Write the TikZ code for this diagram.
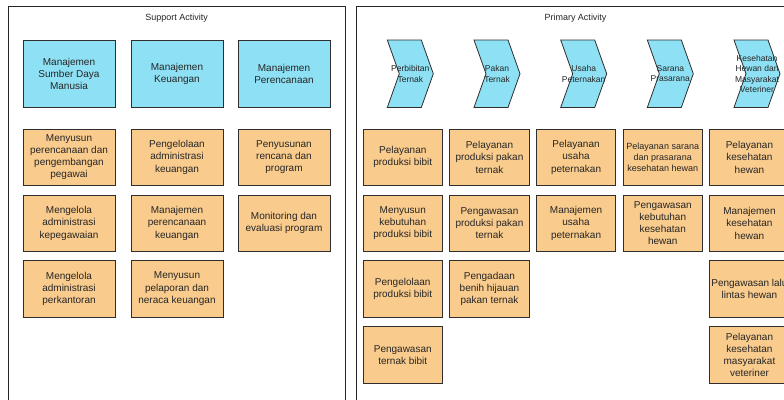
\documentclass[tikz,border=0pt]{standalone}
\usepackage{fontspec}
\setmainfont{Liberation Sans}
\definecolor{bluef}{HTML}{8EE0F4}
\definecolor{orf}{HTML}{F9CB8D}
\definecolor{edgec}{HTML}{2E2E2E}
\definecolor{txt}{HTML}{262626}
\tikzset{
 base/.style={draw=edgec, line width=0.9pt, align=center, inner sep=0pt, text=txt, font=\fontsize{10}{12.2}\selectfont},
 bbox/.style={base, fill=bluef, minimum width=92pt, minimum height=67.5pt},
 sbox/.style={base, fill=orf, minimum width=92pt, minimum height=56.5pt},
 pbox/.style={base, fill=orf, minimum width=79.5pt, minimum height=56.5pt},
 chevshape/.style={draw=edgec, line width=0.8pt, fill=bluef},
 chevtext/.style={align=center, inner sep=0pt, text=txt, font=\fontsize{8.5}{10.5}\selectfont},
 container/.style={draw=black!85, line width=1pt},
 titletext/.style={font=\fontsize{9}{11}\selectfont, text=txt, inner sep=0pt}
}
\newcommand\chevdraw[1]{%
 \draw[chevshape] (#1-23,40) -- (#1+11,40) -- (#1+23,73.75) -- (#1+11,107.5) -- (#1-23,107.5) -- (#1-11,73.75) -- cycle;}
\begin{document}
\begin{tikzpicture}[x=1pt,y=-1pt]
\useasboundingbox (0,0) rectangle (784,399);
\clip (0,0) rectangle (784,399);
\fill[white] (0,0) rectangle (784,399);
% containers
\draw[container] (8,6) rectangle (345.5,410);
\draw[container] (356,6) rectangle (800,410);
\node[titletext] (tsup) at (176.7,18) {Support Activity};
\node[titletext] (tpri) at (575.5,18) {Primary Activity};
% support blue
\node[bbox] (s1) at (69,73.75) {Manajemen\\Sumber Daya\\Manusia};
\node[bbox] (s2) at (177,73.75) {Manajemen\\Keuangan};
\node[bbox] (s3) at (284,73.75) {Manajemen\\Perencanaan};
% support orange
\node[sbox] (s11) at (69,157.25) {Menyusun\\perencanaan dan\\pengembangan\\pegawai};
\node[sbox] (s12) at (69,223.25) {Mengelola\\administrasi\\kepegawaian};
\node[sbox] (s13) at (69,288.75) {Mengelola\\administrasi\\perkantoran};
\node[sbox] (s21) at (177,157.25) {Pengelolaan\\administrasi\\keuangan};
\node[sbox] (s22) at (177,223.25) {Manajemen\\perencanaan\\keuangan};
\node[sbox] (s23) at (177,288.75) {Menyusun\\pelaporan dan\\neraca keuangan};
\node[sbox] (s31) at (284,157.25) {Penyusunan\\rencana dan\\program};
\node[sbox] (s32) at (284,223.25) {Monitoring dan\\evaluasi program};
% chevrons
\chevdraw{410.3}
\chevdraw{497}
\chevdraw{583.7}
\chevdraw{670.3}
\chevdraw{757}
\node[chevtext] (c1) at (410.3,73.75) {Perbibitan\\Ternak};
\node[chevtext] (c2) at (497,73.75) {Pakan\\Ternak};
\node[chevtext] (c3) at (583.7,73.75) {Usaha\\Peternakan};
\node[chevtext] (c4) at (670.3,73.75) {Sarana\\Prasarana};
\node[chevtext] (c5) at (757,73.75) {Kesehatan\\Hewan dan\\Masyarakat\\Veteriner};
% primary orange
\node[pbox] (p11) at (402.75,157.25) {Pelayanan\\produksi bibit};
\node[pbox] (p12) at (402.75,223.25) {Menyusun\\kebutuhan\\produksi bibit};
\node[pbox] (p13) at (402.75,288.75) {Pengelolaan\\produksi bibit};
\node[pbox] (p14) at (402.75,354.75) {Pengawasan\\ternak bibit};
\node[pbox] (p21) at (489.45,157.25) {Pelayanan\\produksi pakan\\ternak};
\node[pbox] (p22) at (489.45,223.25) {Pengawasan\\produksi pakan\\ternak};
\node[pbox] (p23) at (489.45,288.75) {Pengadaan\\benih hijauan\\pakan ternak};
\node[pbox] (p31) at (576.05,157.25) {Pelayanan\\usaha\\peternakan};
\node[pbox] (p32) at (576.05,223.25) {Manajemen\\usaha\\peternakan};
\node[pbox, font=\fontsize{9}{11}\selectfont] (p41) at (662.75,157.25) {Pelayanan sarana\\dan prasarana\\kesehatan hewan};
\node[pbox] (p42) at (662.75,223.25) {Pengawasan\\kebutuhan\\kesehatan\\hewan};
\node[pbox] (p51) at (749.45,157.25) {Pelayanan\\kesehatan\\hewan};
\node[pbox] (p52) at (749.45,223.25) {Manajemen\\kesehatan\\hewan};
\node[pbox] (p53) at (749.45,288.75) {Pengawasan lalu\\lintas hewan};
\node[pbox] (p54) at (749.45,354.75) {Pelayanan\\kesehatan\\masyarakat\\veteriner};
\end{tikzpicture}
\end{document}
